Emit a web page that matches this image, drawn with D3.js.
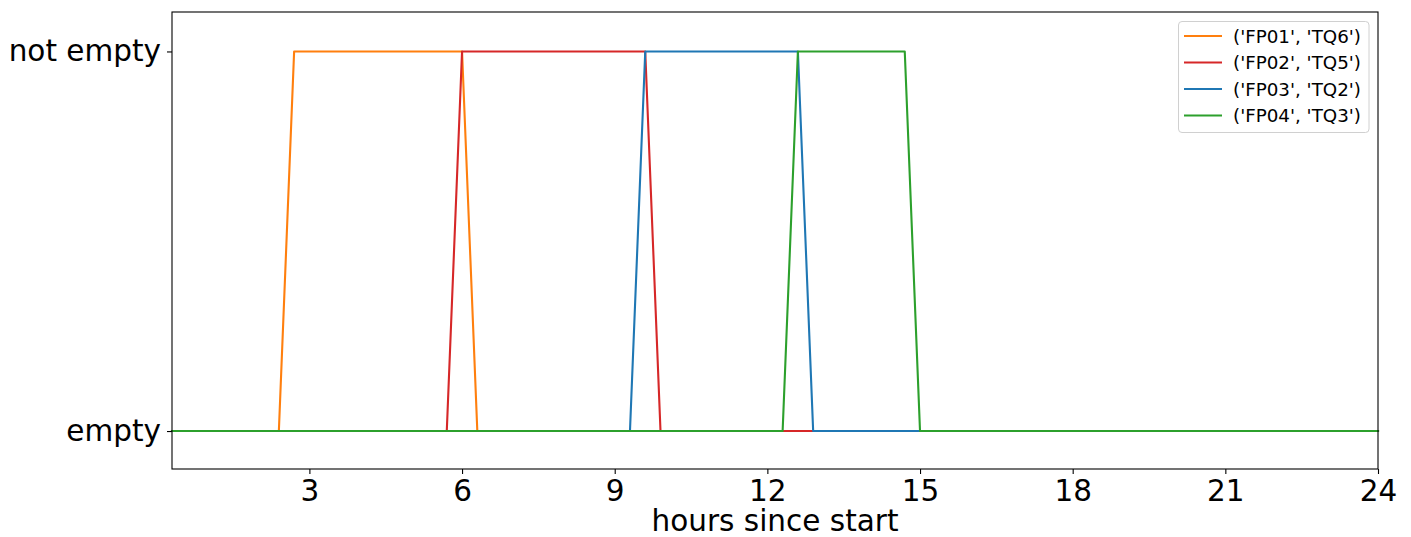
<!DOCTYPE html>
<html>
<head>
<meta charset="utf-8">
<script src="https://cdn.jsdelivr.net/npm/d3@7"></script>
<style>
  html, body { margin: 0; padding: 0; background: #fff; }
  svg { display: block; font-family: "DejaVu Sans", sans-serif; }
</style>
</head>
<body>
<svg id="chart" width="1411" height="537"></svg>
<script>
// Occupancy state of each storage position over time (0 = empty, 1 = not empty).
// Each series lists the hours where the state line changes direction.
const fp01Hours = [0.3, 2.4, 2.7, 6.0, 6.3, 24.0];
const fp01State = [0, 0, 1, 1, 0, 0];
const fp02Hours = [0.3, 5.7, 6.0, 9.6, 9.9, 24.0];
const fp02State = [0, 0, 1, 1, 0, 0];
const fp03Hours = [0.3, 9.3, 9.6, 12.6, 12.9, 24.0];
const fp03State = [0, 0, 1, 1, 0, 0];
const fp04Hours = [0.3, 12.3, 12.6, 14.7, 15.0, 24.0];
const fp04State = [0, 0, 1, 1, 0, 0];

const seriesNames = ["('FP01', 'TQ6')", "('FP02', 'TQ5')", "('FP03', 'TQ2')", "('FP04', 'TQ3')"];
const seriesColors = ["#ff7f0e", "#d62728", "#1f77b4", "#2ca02c"];

const xTicks = [3, 6, 9, 12, 15, 18, 21, 24];
const yTicks = [0, 1];
const yTickLabels = ["empty", "not empty"];
const xDomain = [0.3, 24];
const xLabel = "hours since start";

const series = [
  { name: seriesNames[0], color: seriesColors[0], hours: fp01Hours, state: fp01State },
  { name: seriesNames[1], color: seriesColors[1], hours: fp02Hours, state: fp02State },
  { name: seriesNames[2], color: seriesColors[2], hours: fp03Hours, state: fp03State },
  { name: seriesNames[3], color: seriesColors[3], hours: fp04Hours, state: fp04State }
];

const plot = { left: 172, right: 1378, top: 12, bottom: 469 };
const svg = d3.select("#chart");

const x = d3.scaleLinear().domain(xDomain).range([plot.left, plot.right]);
const y = d3.scaleLinear().domain([-0.1, 1.1]).range([plot.bottom, plot.top + 1.5]);

// state lines, drawn in legend order so later series sit on top
const line = d3.line()
  .x(d => x(d[0]))
  .y(d => y(d[1]));

const lines = svg.append("g");
series.forEach(s => {
  lines.append("path")
    .datum(d3.zip(s.hours, s.state))
    .attr("fill", "none")
    .attr("stroke", s.color)
    .attr("stroke-width", 2.1)
    .attr("stroke-linejoin", "round")
    .attr("stroke-linecap", "square")
    .attr("d", line);
});

const tickFont = 29.5;

// x axis
const xAxis = svg.append("g")
  .attr("transform", `translate(0,${plot.bottom})`)
  .call(d3.axisBottom(x).tickValues(xTicks).tickSize(5).tickPadding(6));
xAxis.select(".domain").remove();
xAxis.selectAll(".tick line").attr("stroke", "#000").attr("stroke-width", 1.1);
xAxis.selectAll(".tick text")
  .attr("font-size", tickFont)
  .attr("font-family", "DejaVu Sans")
  .attr("fill", "#000");

// y axis
const yAxis = svg.append("g")
  .attr("transform", `translate(${plot.left},0)`)
  .call(d3.axisLeft(y).tickValues(yTicks).tickFormat((d, i) => yTickLabels[i]).tickSize(5).tickPadding(6));
yAxis.select(".domain").remove();
yAxis.selectAll(".tick line").attr("stroke", "#000").attr("stroke-width", 1.1);
yAxis.selectAll(".tick text")
  .attr("font-size", tickFont)
  .attr("font-family", "DejaVu Sans")
  .attr("fill", "#000");

// frame
svg.append("rect")
  .attr("x", plot.left)
  .attr("y", plot.top)
  .attr("width", plot.right - plot.left)
  .attr("height", plot.bottom - plot.top)
  .attr("fill", "none")
  .attr("stroke", "#000")
  .attr("stroke-width", 1.1);

// x axis title
svg.append("text")
  .attr("x", (plot.left + plot.right) / 2)
  .attr("y", 531)
  .attr("text-anchor", "middle")
  .attr("font-size", tickFont)
  .attr("fill", "#000")
  .text(xLabel);

// legend
const legend = svg.append("g");
legend.append("rect")
  .attr("x", 1178.5)
  .attr("y", 21.5)
  .attr("width", 190.5)
  .attr("height", 111)
  .attr("rx", 3.5)
  .attr("fill", "#fff")
  .attr("fill-opacity", 0.8)
  .attr("stroke", "#d0d0d0")
  .attr("stroke-width", 1);

series.forEach((s, i) => {
  const cy = 36 + i * 26.5;
  legend.append("line")
    .attr("x1", 1184).attr("x2", 1222)
    .attr("y1", cy).attr("y2", cy)
    .attr("stroke", s.color)
    .attr("stroke-width", 2.1);
  legend.append("text")
    .attr("x", 1233)
    .attr("y", cy)
    .attr("dy", "0.36em")
    .attr("font-size", 18.3)
    .attr("fill", "#000")
    .text(s.name);
});
</script>
</body>
</html>
